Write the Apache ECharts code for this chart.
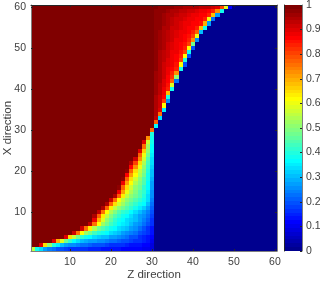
<!DOCTYPE html>
<html><head><meta charset="utf-8">
<style>html,body{margin:0;padding:0;background:#fff}#c{width:320px;height:284px}</style>
<script src="https://cdn.jsdelivr.net/npm/echarts@6/dist/echarts.min.js"></script>
</head><body><div id="c"></div>
<script>
const xTitle = 'Z direction';
const yTitle = 'X direction';
// number of cells equal to 1 at the left of each row (row 1 .. row 60)
const fullCells = [0,2,5,8,10,12,14,15,15,16,17,18,19,20,21,21,22,22,23,23,24,24,25,26,26,27,27,28,29,29,30,
  30,30,30,30,30,30,30,30,30,30,30,30,30,30,30,30,30,30,30,30,30,30,30,30,30,30,30,30,30];
// cell values that follow the full cells; anything after them is 0
const edgeValues = [
 [.55,.38,.33,.28,.24,.22,.2,.19,.18,.17,.17,.17,.16,.16,.15,.15,.15,.14,.14,.13,.13,.13,.12,.12,.12,.11,.11,.1,.1,.08],
 [.9,.65,.5,.4,.35,.31,.28,.26,.25,.24,.23,.22,.21,.2,.19,.19,.18,.17,.17,.16,.16,.15,.14,.14,.13,.12,.11,.09],
 [.9,.7,.58,.48,.42,.37,.34,.31,.29,.28,.27,.26,.25,.24,.23,.22,.21,.2,.19,.18,.17,.16,.15,.13,.1],
 [.9,.65,.55,.47,.42,.38,.36,.34,.32,.31,.3,.28,.27,.25,.24,.22,.2,.19,.17,.15,.14,.11],
 [.92,.75,.62,.53,.47,.43,.4,.38,.36,.34,.32,.3,.28,.26,.24,.22,.2,.18,.16,.13],
 [.92,.76,.63,.54,.48,.44,.41,.38,.36,.34,.32,.3,.28,.25,.23,.2,.17,.14],
 [.93,.75,.62,.53,.47,.43,.4,.37,.35,.33,.3,.28,.26,.23,.2,.16],
 [.88,.7,.58,.5,.46,.42,.39,.37,.34,.32,.3,.27,.24,.21,.17],
 [.95,.78,.63,.55,.49,.45,.42,.39,.37,.34,.31,.28,.25,.22,.18],
 [.93,.75,.61,.54,.49,.45,.42,.4,.37,.34,.31,.28,.24,.19],
 [.95,.78,.64,.56,.51,.47,.44,.41,.38,.35,.32,.28,.21],
 [.95,.78,.65,.57,.52,.48,.45,.42,.39,.36,.31,.23],
 [.92,.75,.62,.56,.51,.47,.45,.42,.38,.33,.24],
 [.95,.78,.64,.56,.51,.47,.44,.4,.34,.25],
 [.88,.71,.6,.54,.49,.45,.41,.35,.26],
 [.97,.78,.65,.57,.51,.47,.42,.36,.27],
 [.88,.71,.61,.54,.49,.44,.37,.28],
 [.97,.78,.65,.57,.51,.45,.38,.29],
 [.87,.71,.61,.54,.47,.39,.3],
 [.97,.78,.65,.56,.49,.4,.31],
 [.87,.72,.6,.51,.42,.32],
 [.95,.8,.65,.54,.43,.33],
 [.92,.72,.57,.45,.34],
 [.78,.6,.47,.35],
 [.9,.66,.5,.36],
 [.75,.53,.37],
 [.9,.57,.38],
 [.72,.39],
 [.4],
 [.75],
 [.37],
 [.78],
 [.93,.33],
 [.94,.75],
 [.94,.9,.35],
 [.95,.91,.62],
 [.95,.92,.8,.25],
 [.95,.92,.86,.4],
 [.96,.93,.88,.68],
 [.96,.93,.89,.83,.38],
 [.96,.93,.9,.85,.58],
 [.96,.94,.9,.86,.78,.22],
 [.96,.94,.91,.87,.82,.5],
 [.96,.94,.91,.88,.84,.72],
 [.97,.95,.92,.89,.87,.84,.38],
 [.97,.95,.92,.9,.88,.85,.62,.2],
 [.97,.95,.93,.9,.88,.86,.8,.4],
 [.97,.95,.93,.91,.89,.87,.83,.62,.2],
 [.97,.95,.93,.91,.89,.88,.85,.8,.38],
 [.97,.96,.94,.92,.9,.88,.86,.83,.62,.2],
 [.97,.96,.94,.92,.9,.89,.87,.85,.8,.48],
 [.97,.96,.94,.93,.91,.89,.88,.86,.83,.72,.25],
 [.98,.96,.95,.93,.91,.9,.88,.87,.85,.8,.6],
 [.98,.96,.95,.93,.92,.9,.89,.88,.86,.84,.78,.3],
 [.98,.97,.95,.94,.92,.91,.9,.88,.87,.86,.83,.68,.38],
 [.98,.97,.96,.94,.93,.91,.9,.89,.88,.87,.86,.85,.7,.28],
 [.98,.97,.96,.95,.93,.92,.91,.9,.89,.88,.87,.86,.84,.6,.22],
 [.98,.97,.96,.95,.94,.93,.92,.91,.9,.89,.88,.87,.86,.84,.68,.28],
 [.98,.98,.97,.96,.95,.94,.93,.93,.92,.91,.9,.89,.88,.87,.84,.72,.38],
 [.99,.98,.98,.97,.97,.96,.96,.95,.95,.94,.94,.93,.93,.93,.92,.9,.8,.58,.12]
];
const cellsPerSide = 60;

const categories = Array.from({length: cellsPerSide}, (_, i) => String(i + 1));
const cells = [];
fullCells.forEach((n, r) => {
  const edge = edgeValues[r];
  for (let z = 0; z < cellsPerSide; z++) {
    const v = z < n ? 1 : (z - n < edge.length ? edge[z - n] : 0);
    cells.push([z, r, v]);
  }
});

// MATLAB jet(64) colour map
function jet(i) {
  const ramp = k => {
    const u = k < 1 || k > 47 ? 0 : (k <= 16 ? k / 16 : (k <= 31 ? 1 : (48 - k) / 16));
    return Math.round(255 * u);
  };
  const k = i + 1;                       // 1..64
  return `rgb(${ramp(k - 24)},${ramp(k - 8)},${ramp(k + 8)})`;
}
const palette = Array.from({length: 64}, (_, i) => jet(i));
const levels = palette.map((_, i) => i);
const colorOf = v => palette[Math.min(63, Math.floor(v * 64))];

const text = '#404040', edge = '#7f7f7f', dark = '#262626';
const font = {fontFamily: '"Liberation Sans", Arial, sans-serif', fontSize: 10.5, color: text};
const titleFont = '11.5px "Liberation Sans", Arial, sans-serif';
const tens = (i, v) => Number(v) % 10 === 0;
const catAxis = (pos, grid, extra) => Object.assign({
  type: 'category', data: categories, position: pos, gridIndex: grid, z: 5,
  axisLine: {show: true, onZero: false, lineStyle: {color: edge, width: 1}},
  axisTick: {show: true, inside: true, length: 2, alignWithLabel: true, interval: tens, lineStyle: {color: dark}},
  axisLabel: {show: false}, splitLine: {show: false}, splitArea: {show: false}
}, extra);

const chart = echarts.init(document.getElementById('c'), null, {renderer: 'canvas'});
chart.setOption({
  animation: false,
  backgroundColor: '#fff',
  grid: [
    {left: 31, top: 5, width: 246, height: 246, outerBoundsMode: 'none', containLabel: false},
    {left: 284, top: 5, width: 18, height: 246, outerBoundsMode: 'none', containLabel: false}
  ],
  graphic: [
    {type: 'text', x: 154, y: 275, silent: true,
     style: {text: xTitle, font: titleFont, fill: text, align: 'center', verticalAlign: 'middle'}},
    {type: 'text', x: 8, y: 128, rotation: Math.PI / 2, silent: true,
     style: {text: yTitle, font: titleFont, fill: text, align: 'center', verticalAlign: 'middle'}}
  ],
  xAxis: [
    catAxis('bottom', 0, {
      axisLabel: Object.assign({show: true, interval: tens, margin: 6}, font)
    }),
    catAxis('top', 0, {axisLine: {show: true, onZero: false, lineStyle: {color: dark, width: 1}}}),
    {type: 'value', gridIndex: 1, min: 0, max: 1, show: false}
  ],
  yAxis: [
    catAxis('left', 0, {
      axisLabel: Object.assign({show: true, interval: tens, margin: 5, padding: [3, 0, 0, 0]}, font)
    }),
    catAxis('right', 0, {}),
    {
      type: 'value', gridIndex: 1, min: 0, max: 1, interval: 0.1, position: 'right', z: 5,
      axisLine: {show: true, onZero: false, lineStyle: {color: edge}},
      axisTick: {show: true, inside: true, length: 2, lineStyle: {color: dark}},
      axisLabel: Object.assign({margin: 4, padding: [3, 0, 0, 0], formatter: v => String(+v.toFixed(1))}, font),
      splitLine: {show: false}
    },
    {
      type: 'value', gridIndex: 1, min: 0, max: 1, position: 'left', z: 5,
      axisLine: {show: true, onZero: false, lineStyle: {color: dark}},
      axisTick: {show: false}, axisLabel: {show: false}, splitLine: {show: false}
    }
  ],
  series: [
    {
      type: 'custom', xAxisIndex: 0, yAxisIndex: 0, data: cells, silent: true, clip: true,
      progressive: 0, encode: {x: 0, y: 1},
      renderItem(params, api) {
        const c = api.coord([api.value(0), api.value(1)]);
        const s = api.size([1, 1]);
        const x0 = Math.round(c[0] - s[0] / 2), x1 = Math.round(c[0] + s[0] / 2);
        const y0 = Math.round(c[1] - s[1] / 2), y1 = Math.round(c[1] + s[1] / 2);
        return {
          type: 'rect',
          shape: {x: x0, y: y0, width: x1 - x0, height: y1 - y0},
          style: {fill: colorOf(api.value(2))}
        };
      }
    },
    {
      type: 'custom', xAxisIndex: 2, yAxisIndex: 2, silent: true, clip: true,
      data: levels.map(i => [i / 64, (i + 1) / 64, i]),
      encode: {y: [0, 1]},
      renderItem(params, api) {
        const a = api.coord([0, api.value(0)]);
        const b = api.coord([1, api.value(1)]);
        const y0 = Math.round(b[1]), y1 = Math.round(a[1]);
        return {
          type: 'rect',
          shape: {x: a[0], y: y0, width: b[0] - a[0], height: y1 - y0},
          style: {fill: palette[api.value(2)]}
        };
      }
    }
  ]
});
</script></body></html>
